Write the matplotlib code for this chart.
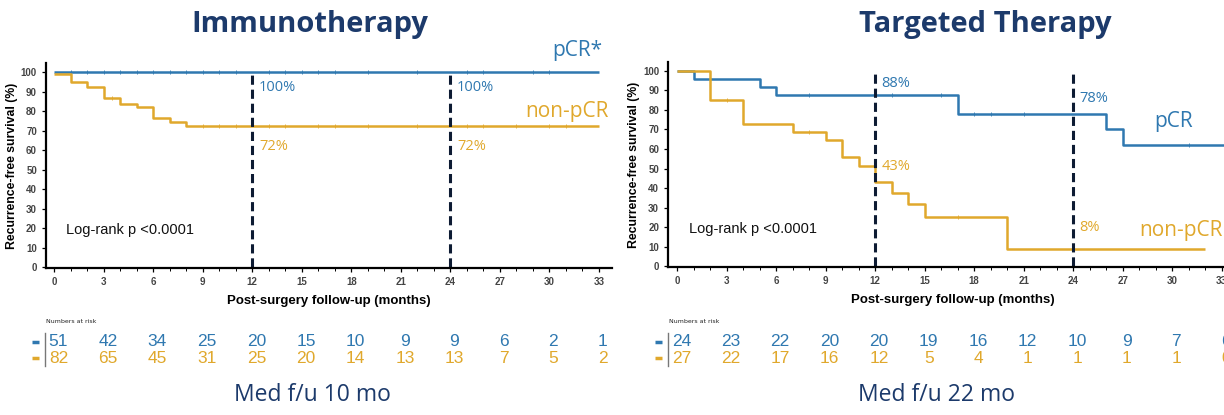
import matplotlib.pyplot as plt
from matplotlib.transforms import blended_transform_factory

BLUE = "#2f78b0"
GOLD = "#e0a82c"
NAVY = "#1c3a6b"

# Kaplan-Meier steps (time in months, survival in %)
immuno_pcr_t = [0, 33]
immuno_pcr_s = [100, 100]
immuno_non_t = [0, 1, 2, 3, 4, 5, 6, 7, 8, 33]
immuno_non_s = [98.8, 95, 92.5, 86.5, 83.8, 82, 76.2, 74.5, 72.2, 72.2]
immuno_pcr_cens = [1, 2, 3, 4, 5, 6, 7, 8, 9, 10, 11, 13, 14, 15, 16, 17, 19, 22, 25, 26, 29, 30]
immuno_non_cens = [3.5, 9, 10, 11, 13, 14, 16, 17, 19, 22, 25, 26, 28, 30, 31]

target_pcr_t = [0, 1, 5, 6, 17, 26, 27, 34]
target_pcr_s = [100, 95.8, 91.6, 87.5, 77.8, 70.1, 62.3, 62.3]
target_non_t = [0, 2, 4, 7, 9, 10, 11, 12, 13, 14, 15, 20, 32]
target_non_s = [100, 85.2, 72.9, 68.8, 64.6, 55.7, 51.4, 42.9, 37.6, 31.6, 25.3, 8.5, 8.5]
target_pcr_cens = [8, 13, 16, 18, 19, 21, 31]
target_non_cens = [3, 8, 17]

risk_times = [0, 3, 6, 9, 12, 15, 18, 21, 24, 27, 30, 33]
immuno_risk_pcr = [51, 42, 34, 25, 20, 15, 10, 9, 9, 6, 2, 1]
immuno_risk_non = [82, 65, 45, 31, 25, 20, 14, 13, 13, 7, 5, 2]
target_risk_pcr = [24, 23, 22, 20, 20, 19, 16, 12, 10, 9, 7, 6]
target_risk_non = [27, 22, 17, 16, 12, 5, 4, 1, 1, 1, 1, 0]

fig = plt.figure(figsize=(12.24, 4.15), dpi=100)
fig.patch.set_facecolor("white")


def km_panel(rect, xlim, pcr, non, risk_pcr, risk_non, marks, groups):
    ax = fig.add_axes(rect)
    ax.set_xlim(*xlim)
    ax.set_ylim(-0.5, 104.6)
    for (t, s, cens), c in zip([pcr, non], [BLUE, GOLD]):
        ax.step(t, s, where="post", color=c, lw=1.8, solid_capstyle="butt")
        ys = [s[max(i for i, tt in enumerate(t) if tt <= x)] for x in cens]
        ax.plot(cens, ys, ls="none", marker="|", ms=3, mew=0.6, color=c)
    for x in (12, 24):
        ax.plot([x, x], [0, 100], color="#0d1b33", lw=2.2, ls=(0, (3, 1.6)))
    for x, y, txt, c in marks:
        ax.text(x, y, txt, color=c, fontsize=10.5, family="Open Sans",
                ha="left", va="center")
    for x, y, txt, c, ha in groups:
        ax.text(x, y, txt, color=c, fontsize=15, family="Open Sans",
                ha=ha, va="center", clip_on=False)
    ax.text(0.7, 19, "Log-rank p <0.0001", fontsize=10.5, color="#111111",
            family="Liberation Sans", va="center")

    for side in ("top", "right"):
        ax.spines[side].set_visible(False)
    for side in ("left", "bottom"):
        ax.spines[side].set_linewidth(1.6)
    ax.set_xticks(range(0, 34, 3))
    ax.set_xticks(range(0, 34), minor=True)
    ax.set_yticks(range(0, 101, 10))
    ax.tick_params(axis="both", which="major", labelsize=7, length=3,
                   width=0.9, labelcolor="#444444")
    ax.tick_params(axis="x", which="minor", length=2, width=0.7)
    for lab in ax.get_xticklabels() + ax.get_yticklabels():
        lab.set_fontweight("bold")
        lab.set_family("Liberation Sans")
    ax.set_xlabel("Post-surgery follow-up (months)", fontsize=9.5,
                  fontweight="bold", family="Liberation Sans", labelpad=6)
    ax.set_ylabel("Recurrence-free survival (%)", fontsize=8.8,
                  fontweight="bold", family="Liberation Sans")
    ax.yaxis.set_label_coords(-0.05, 0.5)

    # numbers at risk table
    tr = blended_transform_factory(ax.transData, fig.transFigure)
    ax.text(-0.5, 0.226, "Numbers at risk", fontsize=4.5, transform=tr,
            va="center", color="#222222")
    for row_y, vals, c in [(0.176, risk_pcr, BLUE), (0.137, risk_non, GOLD)]:
        ax.plot([-1.35, -0.9], [row_y, row_y], color=c, lw=2.5,
                transform=tr, clip_on=False, solid_capstyle="butt")
        for x, v in zip(risk_times, vals):
            ax.text(x + 0.25, row_y, str(v), fontsize=12.5, color=c,
                    family="Liberation Sans", transform=tr,
                    ha="center", va="center", clip_on=False)
    ax.plot([-0.55, -0.55], [0.117, 0.197], color="#777777", lw=1,
            transform=tr, clip_on=False)
    return ax


km_panel([0.0376, 0.354, 0.4624, 0.494], (-0.5, 33.8),
         (immuno_pcr_t, immuno_pcr_s, immuno_pcr_cens),
         (immuno_non_t, immuno_non_s, immuno_non_cens),
         immuno_risk_pcr, immuno_risk_non,
         [(12.4, 92, "100%", BLUE), (12.4, 62, "72%", GOLD),
          (24.4, 92, "100%", BLUE), (24.4, 62, "72%", GOLD)],
         [(33.2, 111, "pCR*", BLUE, "right"), (33.6, 80, "non-pCR", GOLD, "right")])

km_panel([0.5458, 0.3566, 0.4657, 0.494], (-0.55, 34),
         (target_pcr_t, target_pcr_s, target_pcr_cens),
         (target_non_t, target_non_s, target_non_cens),
         target_risk_pcr, target_risk_non,
         [(12.4, 93.5, "88%", BLUE), (12.4, 51, "43%", GOLD),
          (24.4, 86, "78%", BLUE), (24.4, 20, "8%", GOLD)],
         [(28.9, 74, "pCR", BLUE, "left"), (28.0, 18, "non-pCR", GOLD, "left")])

fig.text(0.253, 0.923, "Immunotherapy", fontsize=21, fontweight="bold",
         family="Open Sans", color=NAVY, ha="center", va="baseline")
fig.text(0.805, 0.923, "Targeted Therapy", fontsize=21, fontweight="bold",
         family="Open Sans", color=NAVY, ha="center", va="baseline")
fig.text(0.255, 0.048, "Med f/u 10 mo", fontsize=16.5, family="Open Sans",
         color=NAVY, ha="center", va="center")
fig.text(0.765, 0.048, "Med f/u 22 mo", fontsize=16.5, family="Open Sans",
         color=NAVY, ha="center", va="center")

fig.savefig("out.png", dpi=100, facecolor="white")
